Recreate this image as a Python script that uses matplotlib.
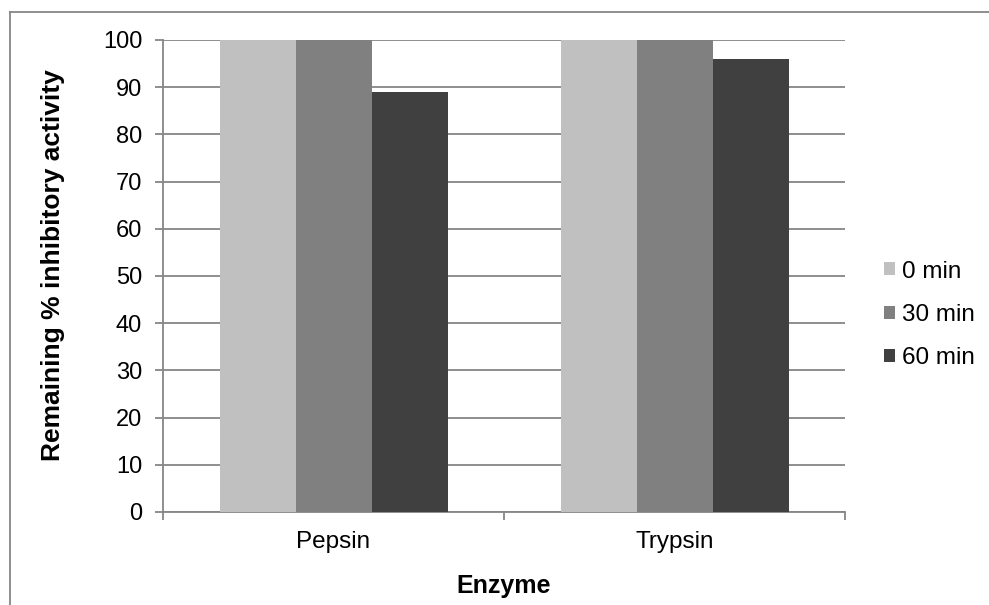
import matplotlib
matplotlib.use("Agg")
import matplotlib.pyplot as plt
from matplotlib.lines import Line2D
from matplotlib.patches import Patch
import numpy as np

plt.rcParams['font.family'] = ['Liberation Sans', 'DejaVu Sans']

categories = ["Pepsin", "Trypsin"]
series_names = ["0 min", "30 min", "60 min"]
vals_0 = [100, 100]
vals_30 = [100, 100]
vals_60 = [89, 96]
colors = ["#C0C0C0", "#808080", "#404040"]
yticks = [0, 10, 20, 30, 40, 50, 60, 70, 80, 90, 100]

fig = plt.figure(figsize=(9.89, 6.05), dpi=100)
ax = fig.add_axes([163/989, 1-512/605, (845-163)/989, (512-40)/605])

gc = "#868686"
x = np.arange(len(categories))
bw = 76/341
for i, (vals, c) in enumerate(zip([vals_0, vals_30, vals_60], colors)):
    ax.bar(x + (i-1)*bw, vals, width=bw, color=c, edgecolor='none', zorder=3, label=series_names[i])

ax.set_xlim(-0.5, 1.5)
ax.set_ylim(0, 100)
ax.set_yticks(yticks)
ax.yaxis.grid(True, color=gc, linewidth=1.3, zorder=0)
ax.set_axisbelow(True)
ax.set_xticks(x)
ax.set_xticklabels(categories)
ax.set_xticks([-0.5, 0.5, 1.5], minor=True)
ax.tick_params(axis='x', which='major', length=0, pad=14, labelsize=17.5)
ax.tick_params(axis='x', which='minor', length=6, width=1.3, color=gc, direction='out')
ax.tick_params(axis='y', length=6, width=1.3, color=gc, direction='out', pad=9, labelsize=17)
for s in ['top', 'right']:
    ax.spines[s].set_visible(False)
for s in ['left', 'bottom']:
    ax.spines[s].set_color(gc)
    ax.spines[s].set_linewidth(1.3)

fig.text(53/989, 1-265/605, "Remaining % inhibitory activity", rotation=90,
         ha='center', va='center', fontsize=19, fontweight='bold')
fig.text(504/989, 1-586/605, "Enzyme", ha='center', va='center', fontsize=18, fontweight='bold')

handles = [Patch(facecolor=c, edgecolor='none') for c in colors]
leg = fig.legend(handles, series_names, loc='center left', bbox_to_anchor=(884/989, 1-315/605),
                 frameon=False, fontsize=17.5, handlelength=0.45, handleheight=0.45,
                 handletextpad=0.3, labelspacing=0.88, borderpad=0, borderaxespad=0)

# figure border
fig.add_artist(Line2D([10/989, 1], [1-12/605, 1-12/605], transform=fig.transFigure, color=gc, linewidth=1.3))
fig.add_artist(Line2D([10/989, 10/989], [0, 1-12/605], transform=fig.transFigure, color=gc, linewidth=1.3))

fig.savefig("out.png", dpi=100)
